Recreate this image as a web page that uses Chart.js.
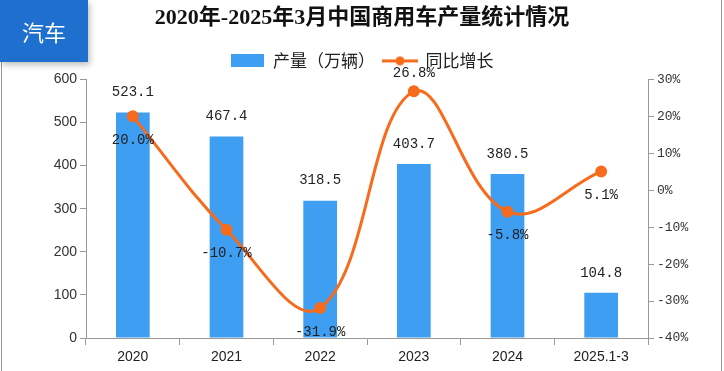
<!DOCTYPE html>
<html>
<head>
<meta charset="utf-8">
<script src="https://cdn.jsdelivr.net/npm/chart.js@4/dist/chart.umd.min.js"></script>
<style>
    body { margin:0; background:#fff; }
    #wrap { position:relative; width:724px; height:371px; overflow:hidden; }
    #badge {
        position:absolute; left:0; top:0; width:88px; height:62px;
        background:#1f6fcf; color:#fff;
        font:22px "Noto Sans CJK SC", sans-serif;
        display:flex; align-items:center; justify-content:center;
        box-shadow:2px 3px 6px rgba(0,0,0,0.25);
        z-index:2;
    }
    .edge { position:absolute; top:0; width:1px; height:371px; background:#999; }
</style>
</head>
<body>
<div id="wrap">
    <div class="edge" style="left:1px"></div>
    <div class="edge" style="left:721px"></div>
    <canvas id="chart" width="724" height="371"></canvas>
    <div id="badge">汽车</div>
</div>
<script>
const years = ['2020', '2021', '2022', '2023', '2024', '2025.1-3'];
const output = [523.1, 467.4, 318.5, 403.7, 380.5, 104.8];
const growth = [20.0, -10.7, -31.9, 26.8, -5.8, 5.1];
const leftTicks = [0, 100, 200, 300, 400, 500, 600];
const rightTicks = [-40, -30, -20, -10, 0, 10, 20, 30];

// label side for the growth values
const growthSide = ['below', 'below', 'below', 'above', 'below', 'below'];

const BLUE = '#3d9ef2';
const ORANGE = '#f76b1c';

// legend markers
const barMark = document.createElement('canvas');
barMark.width = 33; barMark.height = 13;
let c = barMark.getContext('2d');
c.fillStyle = BLUE;
c.fillRect(0, 0, 33, 13);

const lineMark = document.createElement('canvas');
lineMark.width = 36; lineMark.height = 13;
c = lineMark.getContext('2d');
c.strokeStyle = ORANGE;
c.lineWidth = 3;
c.beginPath(); c.moveTo(0, 6.5); c.lineTo(36, 6.5); c.stroke();
c.fillStyle = ORANGE;
c.beginPath(); c.arc(18, 6.5, 4.5, 0, Math.PI * 2); c.fill();

const marks = [barMark, lineMark];

const valueLabels = {
    id: 'valueLabels',
    afterDatasetsDraw(chart) {
        const ctx = chart.ctx;
        ctx.save();
        ctx.font = '14px "Liberation Mono", monospace';
        ctx.fillStyle = '#222';
        ctx.textAlign = 'center';
        ctx.textBaseline = 'middle';

        chart.getDatasetMeta(0).data.forEach((bar, i) => {
            ctx.fillText(output[i].toFixed(1), bar.x, bar.y - 20);
        });

        chart.getDatasetMeta(1).data.forEach((pt, i) => {
            let dy = growthSide[i] === 'above' ? -18 : 24;
            ctx.fillText(growth[i].toFixed(1) + '%', pt.x, pt.y + dy);
        });
        ctx.restore();
    }
};

new Chart(document.getElementById('chart'), {
    type: 'bar',

    data: {
        labels: years,

        datasets: [{
            label: '产量（万辆）',
            data: output,
            backgroundColor: BLUE,
            barPercentage: 0.36,
            categoryPercentage: 1,
            yAxisID: 'y',
            order: 2
        }, {
            type: 'line',
            label: '同比增长',
            data: growth,
            borderColor: ORANGE,
            backgroundColor: ORANGE,
            borderWidth: 3,
            tension: 0.4,
            pointRadius: 4.5,
            pointHoverRadius: 4.5,
            yAxisID: 'y1',
            order: 1
        }]
    },

    options: {
        responsive: false,
        animation: false,
        layout: { padding: 0 },

        plugins: {
            title: {
                display: true,
                text: '2020年-2025年3月中国商用车产量统计情况',
                color: '#111',
                font: { family: '"Liberation Serif", "Noto Sans CJK SC", serif', size: 22, weight: 'bold' },
                padding: { top: 5, bottom: 13 }
            },
            legend: {
                labels: {
                    color: '#222',
                    font: { family: '"Noto Sans CJK SC", sans-serif', size: 17 },
                    usePointStyle: true,
                    pointStyleWidth: 34,
                    boxHeight: 13,
                    padding: 8,
                    generateLabels(chart) {
                        const items = Chart.defaults.plugins.legend.labels.generateLabels(chart);
                        items.forEach(it => { it.pointStyle = marks[it.datasetIndex]; });
                        return items;
                    },
                    sort: (a, b) => a.datasetIndex - b.datasetIndex
                }
            },
            tooltip: { enabled: false }
        },

        scales: {
            x: {
                grid: { drawOnChartArea: false, color: '#999', tickLength: 7 },
                border: { color: '#999' },
                ticks: { color: '#222', font: { family: '"Liberation Sans", sans-serif', size: 14 }, padding: 4 },
                afterFit(s) { s.height = 33; }
            },

            y: {
                position: 'left',
                min: leftTicks[0],
                max: leftTicks[leftTicks.length - 1],
                ticks: { stepSize: 100, color: '#333', font: { family: '"Liberation Sans", sans-serif', size: 14 }, padding: 3 },
                grid: { drawOnChartArea: false, color: '#999', tickLength: 6 },
                border: { color: '#999' },
                afterFit(s) { s.width = 86; }
            },

            y1: {
                position: 'right',
                min: rightTicks[0],
                max: rightTicks[rightTicks.length - 1],
                ticks: {
                    stepSize: 10,
                    color: '#333',
                    font: { family: '"Liberation Mono", monospace', size: 13 },
                    padding: 3,
                    callback: v => v + '%'
                },
                grid: { drawOnChartArea: false, color: '#999', tickLength: 6 },
                border: { color: '#999' },
                afterFit(s) { s.width = 76; }
            }
        }
    },

    plugins: [valueLabels]
});
</script>
</body>
</html>
